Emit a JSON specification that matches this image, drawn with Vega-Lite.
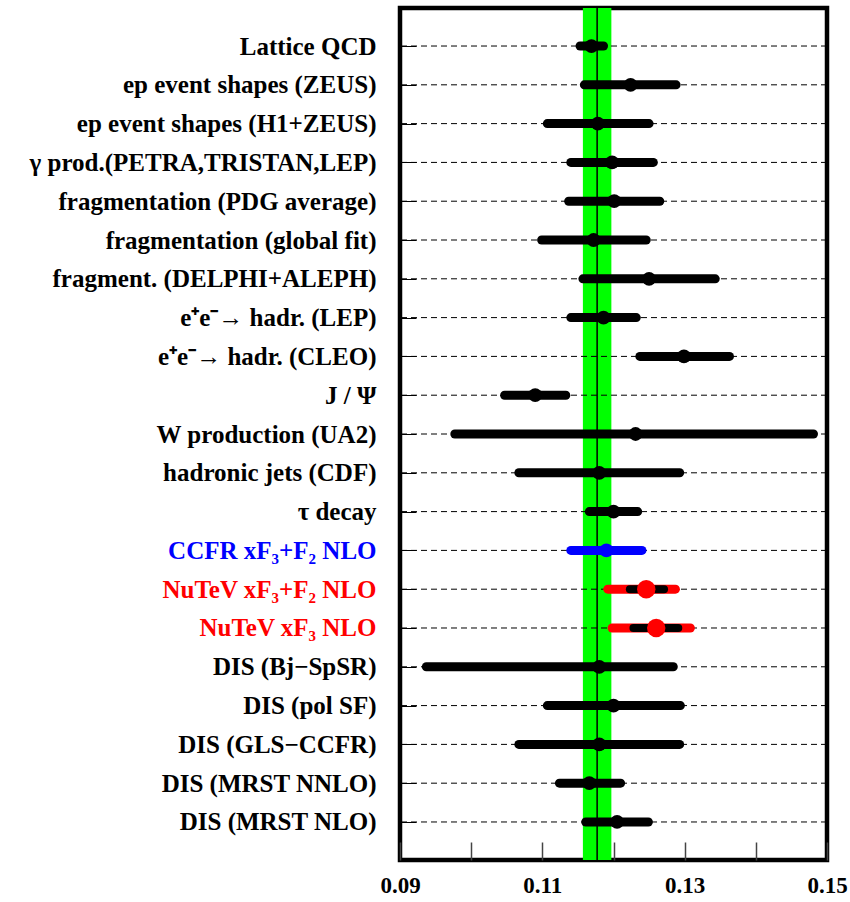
{
  "$schema": "https://vega.github.io/schema/vega-lite/v6.json",
  "width": 427,
  "height": 852,
  "autosize": "none",
  "padding": {"left": 400, "top": 8, "right": 23, "bottom": 42},
  "background": "white",
  "config": {
    "view": {"stroke": "black", "strokeWidth": 4.5},
    "font": "Liberation Serif"
  },
  "data": {
    "values": [
      {"name": "Lattice QCD", "v": 0.1169, "lo": 0.1153, "hi": 0.1186, "grp": "std"},
      {"name": "ep event shapes (ZEUS)", "v": 0.1224, "lo": 0.1159, "hi": 0.1288, "grp": "std"},
      {"name": "ep event shapes (H1+ZEUS)", "v": 0.1178, "lo": 0.1107, "hi": 0.1250, "grp": "std"},
      {"name": "γ prod.(PETRA,TRISTAN,LEP)", "v": 0.1198, "lo": 0.1140, "hi": 0.1256, "grp": "std"},
      {"name": "fragmentation (PDG average)", "v": 0.1201, "lo": 0.1137, "hi": 0.1265, "grp": "std"},
      {"name": "fragmentation (global fit)", "v": 0.1172, "lo": 0.1099, "hi": 0.1246, "grp": "std"},
      {"name": "fragment. (DELPHI+ALEPH)", "v": 0.1250, "lo": 0.1157, "hi": 0.1343, "grp": "std"},
      {"name": "e⁺e⁻→ hadr. (LEP)", "v": 0.1186, "lo": 0.1140, "hi": 0.1232, "grp": "std"},
      {"name": "e⁺e⁻→ hadr. (CLEO)", "v": 0.1299, "lo": 0.1237, "hi": 0.1363, "grp": "std"},
      {"name": "J /  Ψ", "v": 0.1090, "lo": 0.1047, "hi": 0.1133, "grp": "std"},
      {"name": "W production (UA2)", "v": 0.1231, "lo": 0.0977, "hi": 0.1481, "grp": "std"},
      {"name": "hadronic jets (CDF)", "v": 0.1180, "lo": 0.1067, "hi": 0.1293, "grp": "std"},
      {"name": "τ decay", "v": 0.1200, "lo": 0.1166, "hi": 0.1234, "grp": "std"},
      {"name": "CCFR xF₃+F₂ NLO", "v": 0.1190, "lo": 0.1140, "hi": 0.1240, "grp": "ccfr"},
      {"name": "NuTeV xF₃+F₂ NLO", "v": 0.1246, "lo": 0.1192, "hi": 0.1287, "lo2": 0.1223, "hi2": 0.1271, "grp": "nutev"},
      {"name": "NuTeV xF₃ NLO", "v": 0.1260, "lo": 0.1198, "hi": 0.1308, "lo2": 0.1228, "hi2": 0.1291, "grp": "nutev"},
      {"name": "DIS (Bj−SpSR)", "v": 0.1180, "lo": 0.0937, "hi": 0.1284, "grp": "std"},
      {"name": "DIS (pol SF)", "v": 0.1200, "lo": 0.1107, "hi": 0.1294, "grp": "std"},
      {"name": "DIS (GLS−CCFR)", "v": 0.1180, "lo": 0.1067, "hi": 0.1293, "grp": "std"},
      {"name": "DIS (MRST NNLO)", "v": 0.1166, "lo": 0.1124, "hi": 0.1210, "grp": "std"},
      {"name": "DIS (MRST NLO)", "v": 0.1205, "lo": 0.1161, "hi": 0.1249, "grp": "std"}
    ]
  },
  "layer": [
    {
      "data": {"values": [{"lo": 0.1157, "hi": 0.1197}]},
      "mark": {"type": "rect", "color": "#00ff00"},
      "encoding": {
        "x": {"field": "lo", "type": "quantitative", "scale": {"domain": [0.09, 0.15], "nice": false, "zero": false},
          "axis": {
            "values": [0.09, 0.10, 0.11, 0.12, 0.13, 0.14, 0.15],
            "title": null,
            "domain": false,
            "grid": false,
            "tickSize": -18,
            "tickColor": "#444444",
            "tickWidth": 1.5,
            "labelPadding": 32,
            "labelFont": "Liberation Serif",
            "labelFontWeight": "bold",
            "labelFontSize": 23,
            "labelColor": "black",
            "labelFlush": false,
            "labelOverlap": false,
            "labelExpr": "round(datum.value*100) % 2 == 1 ? format(datum.value, '.2f') : ''"
          }},
        "x2": {"field": "hi"}
      }
    },
    {
      "mark": {"type": "rule", "color": "black", "strokeWidth": 1, "strokeDash": [6, 4]},
      "encoding": {
        "y": {"field": "name", "type": "nominal", "sort": null, "scale": {"type": "point", "padding": 0.98},
          "axis": {
            "title": null,
            "domain": false,
            "grid": false,
            "tickSize": -16,
            "tickColor": "black",
            "tickWidth": 1,
            "labelPadding": 40,
            "labelLimit": 400,
            "labelFont": "Liberation Serif",
            "labelFontWeight": "bold",
            "labelFontSize": 25,
            "labelColor": {"expr": "indexof(datum.label, 'NuTeV') == 0 ? '#ff0000' : (indexof(datum.label, 'CCFR') == 0 ? '#0000ff' : 'black')"}
          }}
      }
    },
    {
      "data": {"values": [{"c": 0.1177}]},
      "mark": {"type": "rule", "color": "black", "strokeWidth": 1.5},
      "encoding": {"x": {"field": "c", "type": "quantitative"}}
    },
    {
      "mark": {"type": "rule", "strokeWidth": 9, "strokeCap": "round"},
      "encoding": {
        "y": {"field": "name", "type": "nominal", "sort": null},
        "x": {"field": "lo", "type": "quantitative"},
        "x2": {"field": "hi"},
        "color": {"field": "grp", "type": "nominal", "legend": null,
          "scale": {"domain": ["std", "ccfr", "nutev"], "range": ["#000000", "#0000ff", "#ff0000"]}}
      }
    },
    {
      "transform": [{"filter": "datum.grp === 'nutev'"}],
      "mark": {"type": "rule", "strokeWidth": 8, "strokeCap": "round", "color": "black"},
      "encoding": {
        "y": {"field": "name", "type": "nominal", "sort": null},
        "x": {"field": "lo2", "type": "quantitative"},
        "x2": {"field": "hi2"}
      }
    },
    {
      "transform": [{"filter": "datum.grp !== 'nutev'"}],
      "mark": {"type": "point", "shape": "circle", "filled": true, "opacity": 1, "size": 190},
      "encoding": {
        "y": {"field": "name", "type": "nominal", "sort": null},
        "x": {"field": "v", "type": "quantitative"},
        "color": {"field": "grp", "type": "nominal", "legend": null}
      }
    },
    {
      "transform": [{"filter": "datum.grp === 'nutev'"}],
      "mark": {"type": "point", "shape": "circle", "filled": true, "opacity": 1, "size": 340, "color": "#ff0000"},
      "encoding": {
        "y": {"field": "name", "type": "nominal", "sort": null},
        "x": {"field": "v", "type": "quantitative"}
      }
    }
  ]
}
